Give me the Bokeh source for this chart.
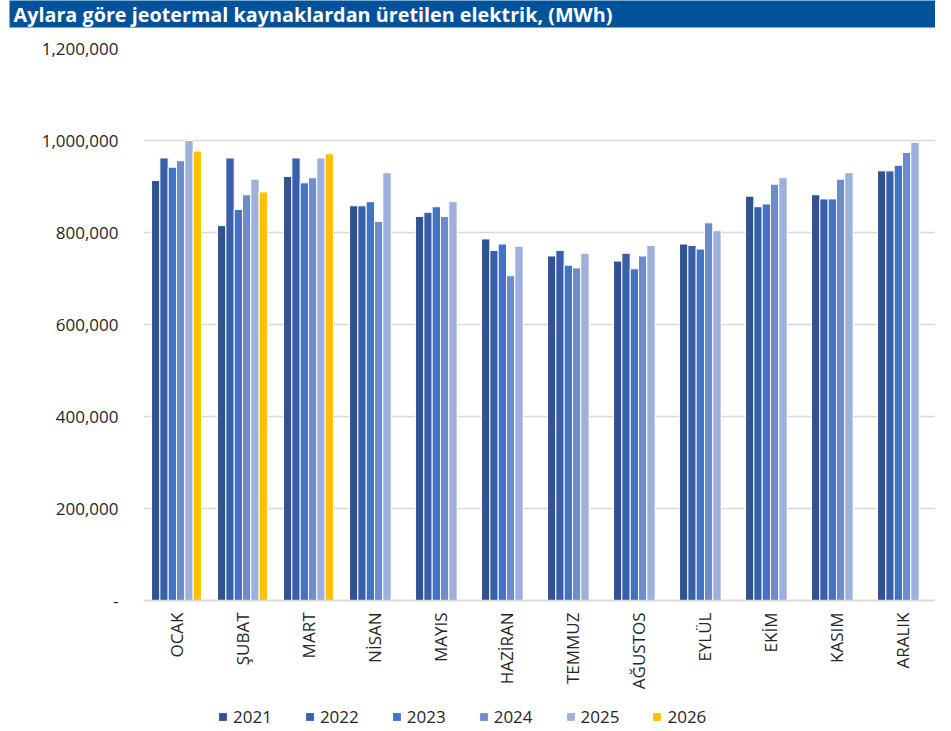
from bokeh.plotting import figure
from bokeh.models import (FactorRange, Range1d, Legend, LegendItem, NumeralTickFormatter,
                          ColumnDataSource, Title, FixedTicker)
from bokeh.transform import dodge
from bokeh.embed import file_html
from bokeh.resources import INLINE

title_text = "Aylara göre jeotermal kaynaklardan üretilen elektrik, (MWh)"
months = ["OCAK", "ŞUBAT", "MART", "NİSAN", "MAYIS", "HAZİRAN", "TEMMUZ",
          "AĞUSTOS", "EYLÜL", "EKİM", "KASIM", "ARALIK"]
years = ["2021", "2022", "2023", "2024", "2025", "2026"]
y_ticks = [0, 200000, 400000, 600000, 800000, 1000000, 1200000]

v2021 = [913000, 815000, 922000, 858000, 835000, 786000, 749000, 738000, 775000, 879000, 882000, 934000]
v2022 = [962000, 962000, 962000, 858000, 844000, 761000, 761000, 755000, 772000, 856000, 873000, 934000]
v2023 = [942000, 850000, 908000, 867000, 856000, 775000, 729000, 721000, 764000, 862000, 873000, 946000]
v2024 = [956000, 882000, 919000, 824000, 835000, 706000, 723000, 749000, 821000, 905000, 916000, 974000]
v2025 = [1000000, 916000, 962000, 930000, 867000, 770000, 755000, 772000, 804000, 919000, 930000, 996000]
v2026 = [977000, 888000, 971000]

series = [v2021, v2022, v2023, v2024, v2025, v2026]
colors = ["#2F5291", "#385FA8", "#4472C4", "#6E8BCB", "#9EAFDA", "#FFC000"]

FONT = "Open Sans"
TEXT_COLOR = "#262626"
LEFT = 143
TOP = 48
HEIGHT = 728
ZERO_PX = 600          # pixel row of the value 0
Y_MAX = 1200000
# extend the value range below zero so that axis labels and legend sit inside the frame
y_min = -Y_MAX * (HEIGHT - ZERO_PX) / (ZERO_PX - TOP)

title = Title(text=title_text, align="left", offset=9 - LEFT, standoff=0,
              vertical_align="top",
              text_color="white", text_font=FONT, text_font_style="bold",
              text_font_size="19.8px", background_fill_color="#00529B",
              padding=dict(left=4, right=420, top=0, bottom=0))

p = figure(width=935, height=HEIGHT, x_range=FactorRange(*months, range_padding=0),
           y_range=Range1d(y_min, Y_MAX), toolbar_location=None, output_backend="svg",
           title=title,
           min_border_left=LEFT, min_border_right=0, min_border_top=TOP, min_border_bottom=0)
p.outline_line_color = None
p.background_fill_color = "white"
p.border_fill_color = "white"

# blank spacer between the title bar and the plot area
spacer = Title(text=" ", standoff=3, text_font=FONT, text_font_size="10px",
               text_color="white")
p.add_layout(spacer, "above")

bw = 0.126
items = []
for i, (yr, vals, c) in enumerate(zip(years, series, colors)):
    src = ColumnDataSource(dict(month=months[:len(vals)], value=vals))
    off = (i - 2.5) * bw
    r = p.vbar(x=dodge("month", off, range=p.x_range), top="value", bottom=0, width=bw,
               source=src, fill_color=c, line_color="white", line_width=1)
    items.append(LegendItem(label=yr, renderers=[r]))

p.yaxis.ticker = FixedTicker(ticks=y_ticks)
p.yaxis.formatter = NumeralTickFormatter(format="0,0")
p.yaxis.major_label_overrides = {0: "-"}
p.yaxis.axis_line_color = None
p.yaxis.major_tick_line_color = None
p.yaxis.major_tick_out = 0
p.yaxis.major_tick_in = 0
p.yaxis.minor_tick_line_color = None
p.yaxis.major_label_standoff = 25
p.yaxis.major_label_text_font = FONT
p.yaxis.major_label_text_font_size = "17px"
p.yaxis.major_label_text_color = TEXT_COLOR

p.xaxis.fixed_location = 0
p.xaxis.axis_line_color = "#D9D9D9"
p.xaxis.axis_line_width = 1.5
p.xaxis.major_tick_line_color = None
p.xaxis.major_tick_out = 0
p.xaxis.major_tick_in = 0
p.xaxis.minor_tick_line_color = None
p.xaxis.major_label_orientation = 1.5708
p.xaxis.major_label_standoff = 12
p.xaxis.major_label_text_font = FONT
p.xaxis.major_label_text_font_size = "17px"
p.xaxis.major_label_text_color = TEXT_COLOR

p.xgrid.grid_line_color = None
p.ygrid.grid_line_color = "#D9D9D9"
p.ygrid.grid_line_width = 1.5

legend = Legend(items=items, orientation="horizontal", location=(74, 0),
                spacing=32, glyph_width=11, glyph_height=11, label_standoff=5,
                padding=0, margin=0, border_line_color=None, background_fill_alpha=0,
                label_text_font=FONT, label_text_font_size="17px",
                label_text_color=TEXT_COLOR)
p.add_layout(legend)

open("out.html", "w").write(file_html(p, INLINE))
